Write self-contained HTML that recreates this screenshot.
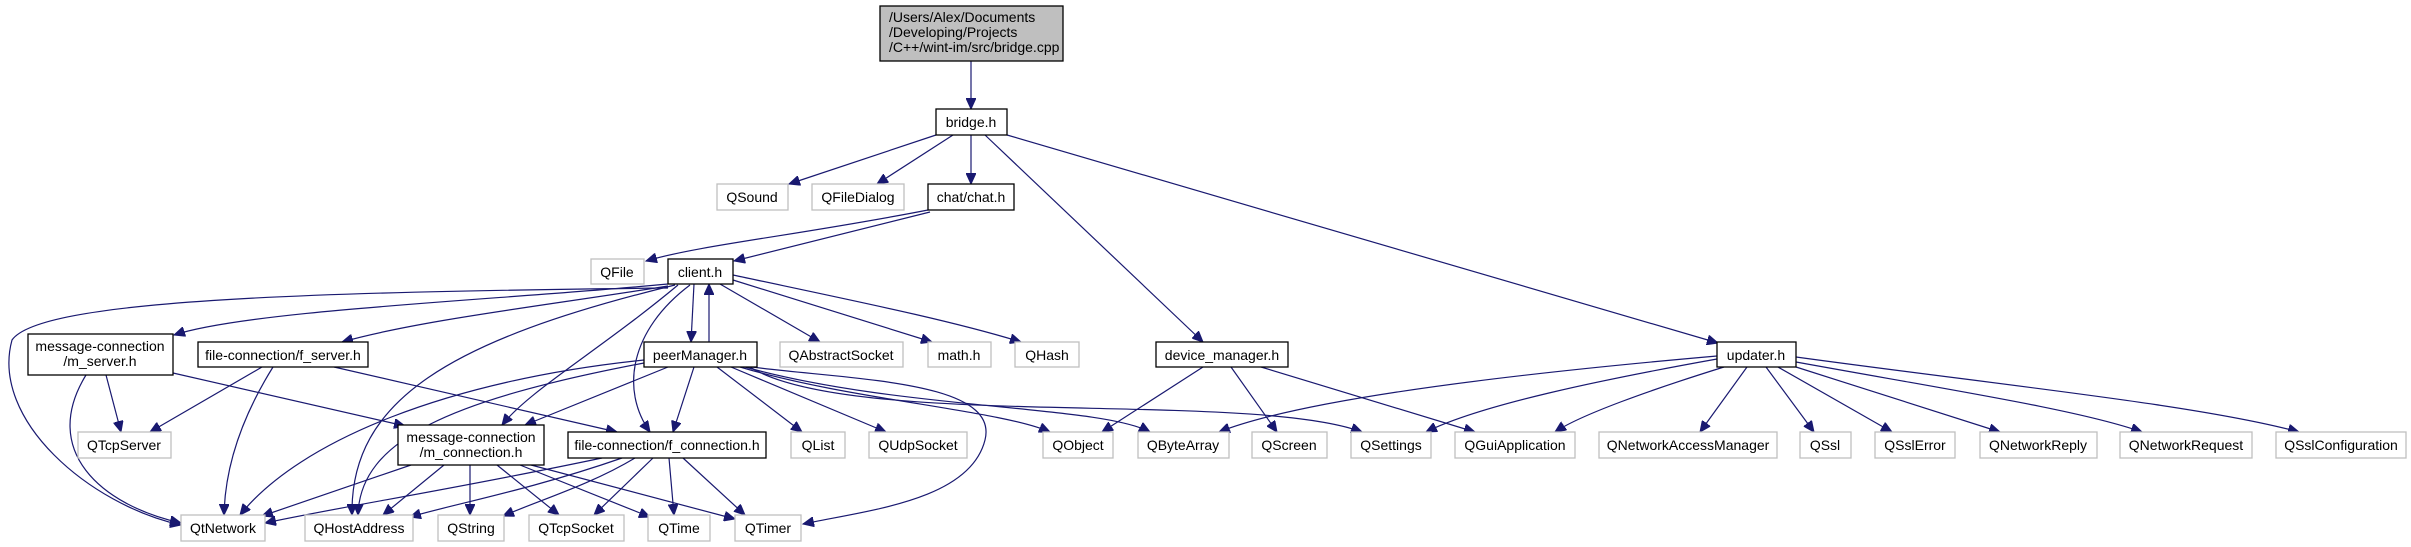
<!DOCTYPE html>
<html><head><meta charset="utf-8"><style>
html,body{margin:0;padding:0;background:#fff;}
svg{display:block;}
text{font-family:"Liberation Sans",Arial,sans-serif;font-size:14px;fill:#000;}
.g{fill:#fff;stroke:#bfbfbf;stroke-width:1.3;}
.b{fill:#fff;stroke:#000;stroke-width:1.3;}
path.e{fill:none;stroke:#191970;stroke-width:1.2;marker-end:url(#a);}
</style></head><body>
<svg width="2411" height="547" viewBox="0 0 2411 547" xmlns="http://www.w3.org/2000/svg">
<defs><marker id="a" markerUnits="userSpaceOnUse" markerWidth="12" markerHeight="10" refX="11" refY="5" orient="auto"><path d="M0,0 L11,5 L0,10 z" fill="#191970" stroke="#191970"/></marker></defs>
<!-- edges -->
<path class="e" d="M971,61 L971,109"/>
<path class="e" d="M936,135 L789,184"/>
<path class="e" d="M953,135 L877,184"/>
<path class="e" d="M971,135 L971,184"/>
<path class="e" d="M985,135 L1203,342"/>
<path class="e" d="M1007,135 L1718,343"/>
<path class="e" d="M928,210 C 800,235 700,245 646,261"/>
<path class="e" d="M930,212 L734,261"/>
<path class="e" d="M668,284 C 500,300 250,310 174,335"/>
<path class="e" d="M668,286 C 550,305 420,320 342,342"/>
<path class="e" d="M668,288 C 300,292 40,300 12,340 C -10,420 90,505 181,525"/>
<path class="e" d="M675,285 C 450,340 350,400 352,515"/>
<path class="e" d="M678,285 C 600,350 530,390 502,425"/>
<path class="e" d="M690,285 C 630,330 620,390 650,432"/>
<path class="e" d="M694,284 L691,342"/>
<path class="e" d="M709,342 L709,284"/>
<path class="e" d="M720,284 L820,342"/>
<path class="e" d="M733,280 L932,342"/>
<path class="e" d="M733,275 C 850,300 950,320 1021,342"/>
<path class="e" d="M644,360 C 450,380 300,440 240,515"/>
<path class="e" d="M644,363 C 450,400 360,440 358,515"/>
<path class="e" d="M668,367 L525,425"/>
<path class="e" d="M694,367 L673,432"/>
<path class="e" d="M717,367 L802,432"/>
<path class="e" d="M731,367 L886,432"/>
<path class="e" d="M740,367 C 850,400 1000,410 1050,432"/>
<path class="e" d="M745,367 C 900,410 1100,405 1150,432"/>
<path class="e" d="M750,367 C 850,430 1250,390 1362,432"/>
<path class="e" d="M752,367 C 850,380 1000,380 985,440 C 970,500 870,510 803,524"/>
<path class="e" d="M106,375 L121,432"/>
<path class="e" d="M86,375 C 40,450 100,505 181,523"/>
<path class="e" d="M173,373 L405,426"/>
<path class="e" d="M262,367 L150,432"/>
<path class="e" d="M273,367 C 240,420 225,470 224,515"/>
<path class="e" d="M334,367 L617,432"/>
<path class="e" d="M411,465 L262,516"/>
<path class="e" d="M444,465 L383,515"/>
<path class="e" d="M470,465 L470,515"/>
<path class="e" d="M497,465 L559,515"/>
<path class="e" d="M520,465 L650,517"/>
<path class="e" d="M531,465 L735,519"/>
<path class="e" d="M602,458 C 450,490 350,505 265,523"/>
<path class="e" d="M622,458 C 530,490 450,505 410,517"/>
<path class="e" d="M635,458 C 590,485 540,500 503,516"/>
<path class="e" d="M653,458 L594,515"/>
<path class="e" d="M669,458 L674,515"/>
<path class="e" d="M683,458 L745,515"/>
<path class="e" d="M1203,367 L1102,432"/>
<path class="e" d="M1231,367 L1277,432"/>
<path class="e" d="M1261,367 L1475,432"/>
<path class="e" d="M1717,356 C 1500,375 1300,400 1219,432"/>
<path class="e" d="M1717,359 C 1600,380 1480,405 1426,432"/>
<path class="e" d="M1724,367 C 1650,390 1580,415 1555,432"/>
<path class="e" d="M1747,367 L1700,432"/>
<path class="e" d="M1766,367 L1814,432"/>
<path class="e" d="M1778,367 L1892,432"/>
<path class="e" d="M1796,367 L2000,432"/>
<path class="e" d="M1796,362 C 1950,390 2080,410 2142,432"/>
<path class="e" d="M1796,357 C 2000,385 2200,405 2299,432"/>
<!-- nodes -->
<rect x="880" y="6" width="183" height="55" fill="#bfbfbf" stroke="#000" stroke-width="1.3"/>
<text x="889" y="22">/Users/Alex/Documents</text>
<text x="889" y="37">/Developing/Projects</text>
<text x="889" y="52">/C++/wint-im/src/bridge.cpp</text>
<g text-anchor="middle">
<rect class="b" x="936" y="109" width="71" height="26"/><text x="971" y="127">bridge.h</text>
<rect class="g" x="717" y="184" width="71" height="26"/><text x="752" y="202">QSound</text>
<rect class="g" x="812" y="184" width="92" height="26"/><text x="858" y="202">QFileDialog</text>
<rect class="b" x="928" y="184" width="86" height="26"/><text x="971" y="202">chat/chat.h</text>
<rect class="g" x="591" y="259" width="53" height="25"/><text x="617" y="277">QFile</text>
<rect class="b" x="668" y="259" width="65" height="25"/><text x="700" y="277">client.h</text>
<rect class="b" x="28" y="334" width="145" height="41"/><text x="100" y="351">message-connection</text><text x="100" y="366">/m_server.h</text>
<rect class="b" x="198" y="342" width="170" height="25"/><text x="283" y="360">file-connection/f_server.h</text>
<rect class="b" x="644" y="342" width="113" height="25"/><text x="700" y="360">peerManager.h</text>
<rect class="g" x="780" y="342" width="123" height="25"/><text x="841" y="360">QAbstractSocket</text>
<rect class="g" x="928" y="342" width="63" height="25"/><text x="959" y="360">math.h</text>
<rect class="g" x="1015" y="342" width="64" height="25"/><text x="1047" y="360">QHash</text>
<rect class="b" x="1156" y="342" width="132" height="25"/><text x="1222" y="360">device_manager.h</text>
<rect class="b" x="1717" y="342" width="79" height="25"/><text x="1756" y="360">updater.h</text>
<rect class="g" x="78" y="432" width="93" height="26"/><text x="124" y="450">QTcpServer</text>
<rect class="b" x="398" y="425" width="146" height="40"/><text x="471" y="442">message-connection</text><text x="471" y="457">/m_connection.h</text>
<rect class="b" x="568" y="432" width="198" height="26"/><text x="667" y="450">file-connection/f_connection.h</text>
<rect class="g" x="791" y="432" width="54" height="26"/><text x="818" y="450">QList</text>
<rect class="g" x="869" y="432" width="98" height="26"/><text x="918" y="450">QUdpSocket</text>
<rect class="g" x="1043" y="432" width="70" height="26"/><text x="1078" y="450">QObject</text>
<rect class="g" x="1138" y="432" width="91" height="26"/><text x="1183" y="450">QByteArray</text>
<rect class="g" x="1252" y="432" width="75" height="26"/><text x="1289" y="450">QScreen</text>
<rect class="g" x="1351" y="432" width="80" height="26"/><text x="1391" y="450">QSettings</text>
<rect class="g" x="1455" y="432" width="120" height="26"/><text x="1515" y="450">QGuiApplication</text>
<rect class="g" x="1599" y="432" width="178" height="26"/><text x="1688" y="450">QNetworkAccessManager</text>
<rect class="g" x="1800" y="432" width="51" height="26"/><text x="1825" y="450">QSsl</text>
<rect class="g" x="1875" y="432" width="80" height="26"/><text x="1915" y="450">QSslError</text>
<rect class="g" x="1980" y="432" width="117" height="26"/><text x="2038" y="450">QNetworkReply</text>
<rect class="g" x="2120" y="432" width="132" height="26"/><text x="2186" y="450">QNetworkRequest</text>
<rect class="g" x="2276" y="432" width="130" height="26"/><text x="2341" y="450">QSslConfiguration</text>
<rect class="g" x="181" y="515" width="84" height="26"/><text x="223" y="533">QtNetwork</text>
<rect class="g" x="305" y="515" width="108" height="26"/><text x="359" y="533">QHostAddress</text>
<rect class="g" x="438" y="515" width="66" height="26"/><text x="471" y="533">QString</text>
<rect class="g" x="529" y="515" width="95" height="26"/><text x="576" y="533">QTcpSocket</text>
<rect class="g" x="648" y="515" width="62" height="26"/><text x="679" y="533">QTime</text>
<rect class="g" x="735" y="515" width="66" height="26"/><text x="768" y="533">QTimer</text>
</g>
</svg>
</body></html>
